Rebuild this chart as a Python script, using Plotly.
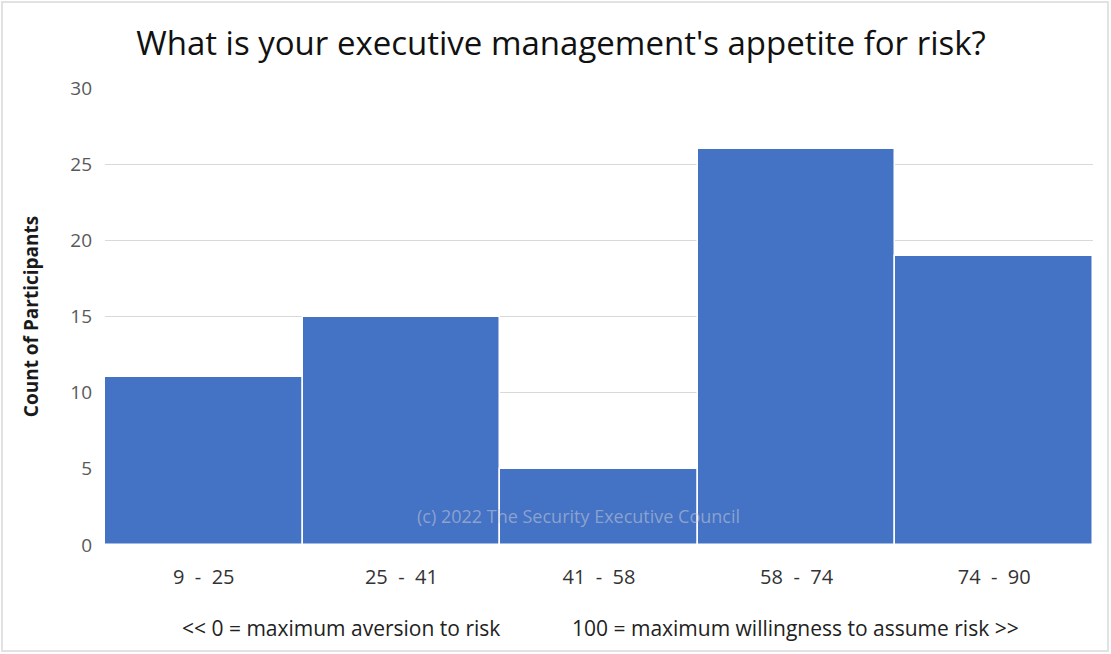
import plotly.graph_objects as go

# Survey response bins and counts
bins = ["9  -  25", "25  -  41", "41  -  58", "58  -  74", "74  -  90"]
counts = [11, 15, 5, 26, 19]
y_ticks = [0, 5, 10, 15, 20, 25, 30]

W, H = 1111, 654
L, R, T, B = 105, 18, 88, 109
FONT = "'Open Sans', sans-serif"

fig = go.Figure(
    go.Bar(
        x=bins,
        y=counts,
        marker=dict(color="#4472C4", line=dict(color="#ffffff", width=1.5)),
        width=1.0,
        hoverinfo="x+y",
    )
)

pw = W - L - R
ph = H - T - B

def px_x(x):
    return (x - L) / pw

def px_y(y):
    return (H - B - y) / ph

fig.update_layout(
    width=W,
    height=H,
    margin=dict(l=L, r=R, t=T, b=B),
    paper_bgcolor="white",
    plot_bgcolor="white",
    bargap=0,
    showlegend=False,
    title=dict(
        text="What is your executive management's appetite for risk?",
        x=561 / W,
        xanchor="center",
        y=1 - 43 / H,
        yanchor="middle",
        font=dict(family=FONT, size=33, color="#111111"),
    ),
    xaxis=dict(
        showgrid=False,
        showline=False,
        ticks="",
        tickfont=dict(family=FONT, size=20, color="#333333"),
        ticklabelstandoff=18,
    ),
    yaxis=dict(
        range=[0, 30],
        tickvals=y_ticks,
        showgrid=True,
        gridcolor="#d9d9d9",
        gridwidth=1,
        zeroline=False,
        showline=False,
        ticks="",
        tickfont=dict(family=FONT, size=19, color="#595959"),
        ticklabelstandoff=12,
        title=dict(
            text="<b>Count of Participants</b>",
            font=dict(family=FONT, size=19, color="#1a1a1a"),
            standoff=26,
        ),
    ),
    annotations=[
        dict(
            text="<< 0 = maximum aversion to risk",
            xref="paper", yref="paper",
            x=px_x(180), y=px_y(628),
            xanchor="left", yanchor="middle",
            showarrow=False,
            font=dict(family=FONT, size=21, color="#222222"),
        ),
        dict(
            text="100 = maximum willingness to assume risk >>",
            xref="paper", yref="paper",
            x=px_x(570), y=px_y(628),
            xanchor="left", yanchor="middle",
            showarrow=False,
            font=dict(family=FONT, size=21, color="#222222"),
        ),
        dict(
            text="(c) 2022 The Security Executive Council",
            xref="paper", yref="paper",
            x=px_x(578), y=px_y(516),
            xanchor="center", yanchor="middle",
            showarrow=False,
            font=dict(family=FONT, size=18, color="rgba(200,205,215,0.55)"),
        ),
    ],
    shapes=[
        dict(
            type="rect",
            xref="paper", yref="paper",
            x0=px_x(2), x1=px_x(1108), y0=px_y(651), y1=px_y(2),
            line=dict(color="#e2e2e2", width=2),
            fillcolor="rgba(0,0,0,0)",
            layer="above",
        )
    ],
)

fig.write_html("out.html")
